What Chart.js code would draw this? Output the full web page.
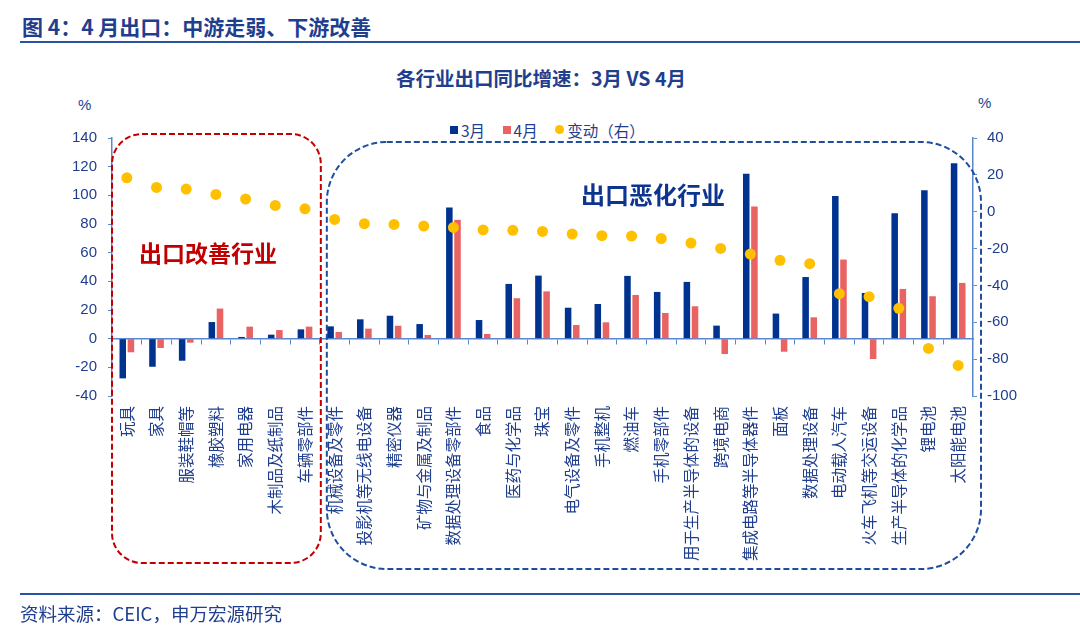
<!DOCTYPE html>
<html>
<head>
<meta charset="utf-8">
<script src="https://cdn.jsdelivr.net/npm/chart.js@4.4.1/dist/chart.umd.min.js"></script>
<style>
body{margin:0;width:1080px;height:634px;overflow:hidden;background:#fff;position:relative;
  font-family:"Noto Sans CJK SC","Noto Sans",sans-serif;color:#1f3e8e}
.abs{position:absolute;white-space:nowrap}
#head{left:22px;top:12px;font-size:21px;font-weight:bold;line-height:28px}
#headLine{left:20px;right:0;top:41px;height:2px;background:#2a54a3}
#title{left:0;width:1082px;top:65px;text-align:center;font-size:19.5px;font-weight:bold;line-height:26px}
#legend{left:450px;top:117px;font-size:15.5px;line-height:20px}
#legend span{display:inline-block;vertical-align:middle}
.sq{width:8px;height:8px;margin-right:3px}
.dot{width:9px;height:9px;border-radius:50%;margin-right:3px}
.pct{font-size:15px;font-family:"Liberation Sans",Arial,sans-serif;line-height:18px}
#good{left:139px;top:236px;font-size:23px;font-weight:bold;color:#c00000;line-height:32px}
#bad{left:581px;top:178px;font-size:24px;font-weight:bold;color:#0d3590;line-height:32px}
#footLine{left:20px;right:0;top:593px;height:2px;background:#2a54a3}
#foot{left:20px;top:600px;font-size:18.5px;line-height:26px}
canvas{position:absolute;left:0;top:0}
</style>
</head>
<body>
<div class="abs" id="head">图 4：4 月出口：中游走弱、下游改善</div>
<div class="abs" id="headLine"></div>
<div class="abs" id="title">各行业出口同比增速：3月 VS 4月</div>
<div class="abs" id="legend">
  <span class="sq" style="background:#00338f"></span><span>3月</span>
  <span class="sq" style="background:#e96363;margin-left:14px"></span><span>4月</span>
  <span class="dot" style="background:#ffc000;margin-left:14px"></span><span>变动（右）</span>
</div>
<div class="abs pct" style="left:78px;top:96px">%</div>
<div class="abs pct" style="left:978px;top:94px">%</div>
<div style="position:absolute;left:0;top:0;width:1080px;height:634px">
  <canvas id="chart" width="1080" height="634"></canvas>
</div>
<div class="abs" id="good">出口改善行业</div>
<div class="abs" id="bad">出口恶化行业</div>
<div class="abs" id="footLine"></div>
<div class="abs" id="foot">资料来源：CEIC，申万宏源研究</div>
<script>
// 行业
const industries = ['玩具', '家具', '服装鞋帽等', '橡胶塑料', '家用电器', '木制品及纸制品', '车辆零部件',
    '机械设备及零件', '投影机等无线电设备', '精密仪器', '矿物与金属及制品', '数据处理设备零部件', '食品',
    '医药与化学品', '珠宝', '电气设备及零件', '手机整机', '燃油车', '手机零部件', '用于生产半导体的设备',
    '跨境电商', '集成电路等半导体器件', '面板', '数据处理设备', '电动载人汽车', '火车飞机等交运设备',
    '生产半导体的化学品', '锂电池', '太阳能电池'];

// 同比增速 %
const marchYoy = [-27.7, -19.6, -15.4, 11.6, 1.2, 2.8, 6.5, 8.6, 13.5, 16.0, 10.2, 91.5, 13.0,
    38.2, 44.0, 21.6, 24.2, 43.8, 32.6, 39.6, 9.1, 115.0, 17.5, 43.0, 99.6, 31.9, 87.5, 103.6, 122.4];
const aprilYoy = [-9.5, -6.5, -2.8, 21.0, 8.4, 6.0, 8.4, 4.7, 7.0, 9.0, 2.6, 82.9, 3.3,
    28.2, 33.0, 9.5, 11.4, 30.5, 17.9, 22.6, -10.7, 92.2, -9.1, 14.9, 55.2, -14.2, 34.7, 29.6, 38.9];
// 变动（右轴）
const change = [18.4, 13.2, 12.3, 9.4, 6.9, 3.4, 1.6, -4.2, -6.5, -6.9, -7.8, -8.5, -9.9,
    -10.1, -10.7, -12.1, -13.0, -13.2, -14.6, -17.0, -19.9, -23.0, -26.4, -28.2, -44.5, -46.1, -52.4, -74.2, -83.4];

const improvedCount = 7;   // 前 7 个行业为出口改善

const axisColor = '#5b86d0';
const textColor = '#1f3e8e';
const numFont = {family: '"Liberation Sans", Arial, sans-serif', size: 15};

// 两个虚线圆角框
const boxPlugin = {
    id: 'boxes',
    beforeDatasetsDraw(chart) {
        const {ctx, chartArea: a, scales: {x}} = chart;
        const step = x.getPixelForValue(1) - x.getPixelForValue(0);
        const split = x.getPixelForValue(improvedCount - 1) + step / 2;
        ctx.save();
        ctx.lineWidth = 2;
        ctx.setLineDash([6, 3]);
        ctx.strokeStyle = '#c00000';
        ctx.beginPath();
        ctx.roundRect(a.left, 134, split + 1 - a.left, 429, 30);
        ctx.stroke();
        ctx.strokeStyle = '#1f4ea0';
        ctx.beginPath();
        ctx.roundRect(split + 7, 142, a.right + 8 - split - 7, 427, 60);
        ctx.stroke();
        ctx.restore();
    }
};

new Chart(document.getElementById('chart'), {
    type: 'bar',
    data: {
        labels: industries,
        datasets: [{
            type: 'line',
            label: '变动（右）',
            data: change,
            yAxisID: 'y1',
            showLine: false,
            pointRadius: 5.5,
            pointBackgroundColor: '#ffc000',
            pointBorderWidth: 0,
            order: 0
        }, {
            label: '3月',
            data: marchYoy,
            backgroundColor: '#00338f',
            categoryPercentage: 0.55,
            barPercentage: 0.8,
            order: 1
        }, {
            label: '4月',
            data: aprilYoy,
            backgroundColor: '#e96363',
            categoryPercentage: 0.55,
            barPercentage: 0.8,
            order: 1
        }]
    },
    options: {
        responsive: false,
        animation: false,
        layout: {padding: {top: 138, bottom: 0, left: 0, right: 0}},
        plugins: {legend: {display: false}, tooltip: {enabled: false}},
        scales: {
            x: {
                grid: {display: false, drawTicks: false},
                border: {display: false},
                ticks: {
                    autoSkip: false, minRotation: 90, maxRotation: 90, padding: 10,
                    color: textColor, font: {family: '"Noto Sans CJK SC", sans-serif', size: 15.5}
                },
                afterFit(s) { s.height = 238; }
            },
            x2: {
                type: 'category',
                labels: industries,
                offset: true,
                position: {y: 0},
                grid: {offset: true, drawOnChartArea: false, drawTicks: true, tickLength: 5, color: axisColor},
                border: {color: axisColor, width: 1.5},
                ticks: {display: false},
                afterFit(s) { s.height = 0; }
            },
            y: {
                min: -40, max: 140,
                ticks: {stepSize: 20, padding: 11, color: textColor, font: numFont},
                grid: {drawOnChartArea: false, tickLength: 4, color: axisColor},
                border: {color: axisColor, width: 1.5},
                afterFit(s) { s.width = 112; }
            },
            y1: {
                position: 'right',
                min: -100, max: 40,
                ticks: {stepSize: 20, padding: 10, color: textColor, font: numFont},
                grid: {drawOnChartArea: false, tickLength: 4, color: axisColor},
                border: {color: axisColor, width: 1.5},
                afterFit(s) { s.width = 107; }
            }
        }
    },
    plugins: [boxPlugin]
});
</script>
</body>
</html>
